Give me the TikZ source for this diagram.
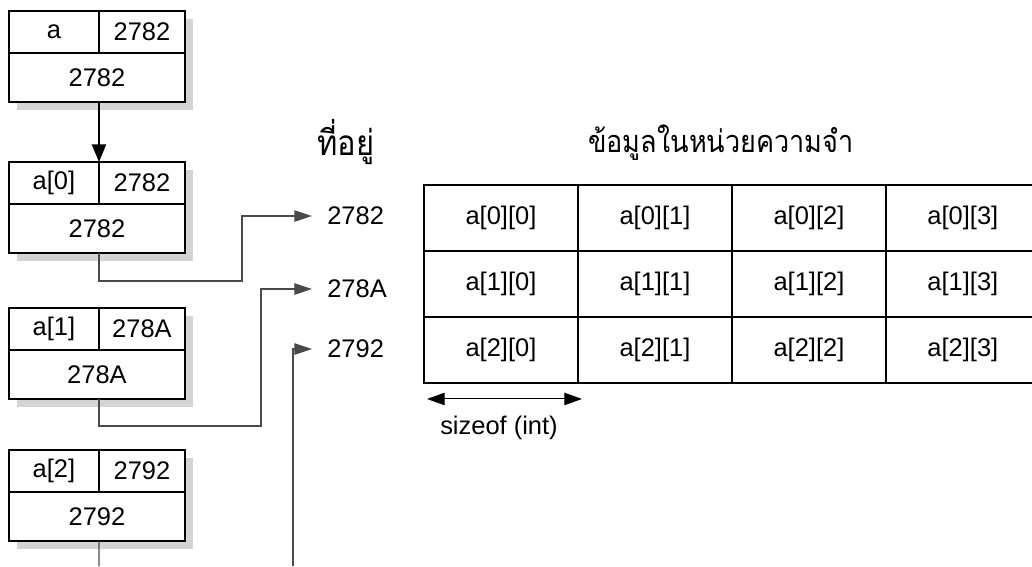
\documentclass[tikz,border=0pt]{standalone}
\usepackage{fontspec}
\setmainfont{Liberation Sans}
\newfontfamily\thaifont[Script=Thai,FakeStretch=0.88]{Loma}
\usetikzlibrary{positioning,arrows.meta,backgrounds}
\definecolor{ShadowGray}{HTML}{D4D4D4}
\definecolor{LinkGray}{HTML}{4A4A4A}

\tikzset{
  cell/.style={draw, line width=1.1pt, fill=white, outer sep=0pt, inner sep=2pt},
  namecell/.style={cell, minimum width=1.8cm, minimum height=0.84cm},
  valcell/.style={cell, minimum width=1.72cm, minimum height=0.84cm},
  addrcell/.style={cell, minimum width=3.52cm, minimum height=0.98cm},
  memcell/.style={cell, minimum width=3.08cm, minimum height=1.32cm},
  link/.style={draw=LinkGray, line width=0.6pt, -{Triangle[length=10pt,width=6.5pt]}},
  addr/.style={anchor=west, inner xsep=8.5pt},
  heading/.style={font=\fontsize{17.5}{20}\selectfont\thaifont}
}

\begin{document}
\begin{tikzpicture}[x=0.02cm, y=-0.02cm, font=\fontsize{14.5}{17}\selectfont]
  \useasboundingbox (0,0) rectangle (1032,566);

  % pointer a and the rows a[0], a[1], a[2]
  \node[namecell, anchor=north west] (aN) at (9,11) {a};
  \node[valcell, right=0pt of aN] (aV) {2782};
  \node[addrcell, below=0pt of aN.south west, anchor=north west] (aB) {2782};

  \node[namecell, anchor=north west] (a0N) at (9,162) {a[0]};
  \node[valcell, right=0pt of a0N] (a0V) {2782};
  \node[addrcell, below=0pt of a0N.south west, anchor=north west] (a0B) {2782};

  \node[namecell, anchor=north west] (a1N) at (9,308) {a[1]};
  \node[valcell, right=0pt of a1N] (a1V) {278A};
  \node[addrcell, below=0pt of a1N.south west, anchor=north west] (a1B) {278A};

  \node[namecell, anchor=north west] (a2N) at (9,450) {a[2]};
  \node[valcell, right=0pt of a2N] (a2V) {2792};
  \node[addrcell, below=0pt of a2N.south west, anchor=north west] (a2B) {2792};

  \begin{scope}[on background layer]
    \fill[ShadowGray] ([shift={(8,8)}]aN.north west) rectangle ([shift={(8,8)}]aB.south east);
    \fill[ShadowGray] ([shift={(8,8)}]a0N.north west) rectangle ([shift={(8,8)}]a0B.south east);
    \fill[ShadowGray] ([shift={(8,8)}]a1N.north west) rectangle ([shift={(8,8)}]a1B.south east);
    \fill[ShadowGray] ([shift={(8,8)}]a2N.north west) rectangle ([shift={(8,8)}]a2B.south east);
  \end{scope}

  \draw[line width=1.1pt, -{Triangle[length=10pt,width=8pt]}]
    (aB.south -| aN.east) -- (a0N.north -| aN.east);

  % addresses
  \node[heading, font=\fontsize{20}{22}\selectfont\thaifont] (hAddr) at (346,142) {ที่อยู่};
  \node[addr] (ad0) at (312,216) {2782};
  \node[addr] (ad1) at (312,289) {278A};
  \node[addr] (ad2) at (312,349) {2792};

  \coordinate (turn0) at (242,216);
  \coordinate (turn1) at (261,289);
  \coordinate (cut2) at (99,566);
  \coordinate (from2) at (293,566);
  \draw[link] (a0B.south -| a0N.east) -- ++(0,28) -| (turn0) -- (ad0.west);
  \draw[link] (a1B.south -| a1N.east) -- ++(0,27) -| (turn1) -- (ad1.west);
  \draw[draw=LinkGray, line width=0.6pt] (a2B.south -| a2N.east) -- (cut2);
  \draw[link] (from2) |- (ad2.west);

  % memory
  \node[heading] (hData) at (721,143) {ข้อมูลในหน่วยความจำ};
  \node[memcell, anchor=north west] (m00) at (424,185) {a[0][0]};
  \node[memcell, right=0pt of m00] (m01) {a[0][1]};
  \node[memcell, right=0pt of m01] (m02) {a[0][2]};
  \node[memcell, right=0pt of m02] (m03) {a[0][3]};
  \node[memcell, below=0pt of m00] (m10) {a[1][0]};
  \node[memcell, right=0pt of m10] (m11) {a[1][1]};
  \node[memcell, right=0pt of m11] (m12) {a[1][2]};
  \node[memcell, right=0pt of m12] (m13) {a[1][3]};
  \node[memcell, below=0pt of m10] (m20) {a[2][0]};
  \node[memcell, right=0pt of m20] (m21) {a[2][1]};
  \node[memcell, right=0pt of m21] (m22) {a[2][2]};
  \node[memcell, right=0pt of m22] (m23) {a[2][3]};

  \draw[line width=0.6pt, {Triangle[length=10pt,width=7pt]}-{Triangle[length=10pt,width=7pt]}]
    ([shift={(3,16)}]m20.south west) -- ([shift={(4,16)}]m20.south east);
  \node (sz) at (499,428) {sizeof (int)};
\end{tikzpicture}
\end{document}
